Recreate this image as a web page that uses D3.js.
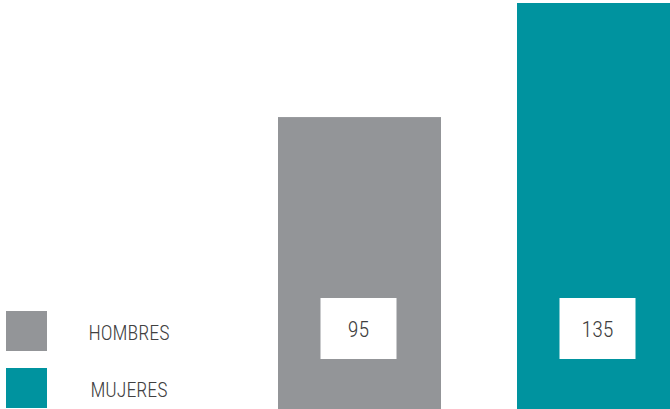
<!DOCTYPE html>
<html lang="es">
<head>
<meta charset="UTF-8">
<title>Hombres y mujeres</title>
<script src="https://d3js.org/d3.v7.min.js"></script>
<style>
  body { margin: 0; background: #fff; }
  svg text { font-family: "Liberation Sans Narrow", "Roboto Condensed", "Liberation Sans", sans-serif; fill: #404040; font-weight: 300; }
</style>
</head>
<body>
<svg width="670" height="409"></svg>
<script>
// data
const categories = ["HOMBRES", "MUJERES"];
const values = [95, 135];
const colors = ["#939598", "#00939f"];

const svg = d3.select("svg");
const width = +svg.attr("width");
const height = +svg.attr("height");

// scales
const x = d3.scaleBand()
    .domain(categories)
    .range([278, 680])
    .paddingInner(0.318)
    .paddingOuter(0);

const y = d3.scaleLinear()
    .domain([0, 135])
    .range([388, 3]);

const color = d3.scaleOrdinal().domain(categories).range(colors);

const data = categories.map((c, i) => ({ cat: c, value: values[i] }));

// bars (run to the bottom edge)
svg.selectAll("rect.bar")
    .data(data)
    .join("rect")
    .attr("class", "bar")
    .attr("x", d => x(d.cat))
    .attr("y", d => y(d.value))
    .attr("width", x.bandwidth())
    .attr("height", d => height - y(d.value))
    .attr("fill", d => color(d.cat));

// value boxes
const boxW = 76, boxH = 61, boxTop = 298;
const labels = svg.selectAll("g.lbl")
    .data(data)
    .join("g")
    .attr("class", "lbl")
    .attr("transform", d => `translate(${x(d.cat) + x.bandwidth() / 2 - 1},${boxTop})`);

labels.append("rect")
    .attr("x", -boxW / 2)
    .attr("width", boxW)
    .attr("height", boxH)
    .attr("fill", "#fff");

labels.append("text")
    .attr("y", boxH / 2 + 8)
    .attr("text-anchor", "middle")
    .attr("font-size", "22px")
    .text(d => d.value);

// legend
const legend = svg.selectAll("g.leg")
    .data(categories)
    .join("g")
    .attr("class", "leg")
    .attr("transform", (d, i) => `translate(6,${311 + i * 57})`);

legend.append("rect")
    .attr("width", 41)
    .attr("height", 40)
    .attr("fill", d => color(d));

legend.append("text")
    .attr("x", 123)
    .attr("y", 29)
    .attr("text-anchor", "middle")
    .attr("font-size", "20px")
    .text(d => d);
</script>
</body>
</html>
